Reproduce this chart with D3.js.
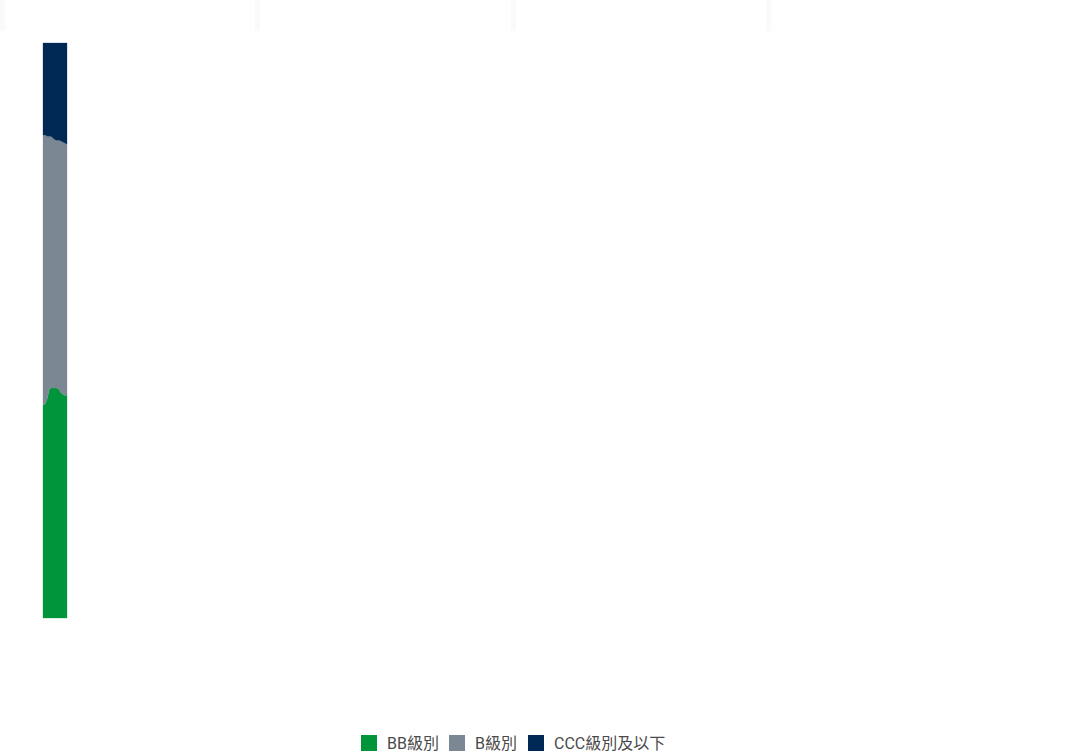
<!DOCTYPE html>
<html><head><meta charset="utf-8">
<script src="https://cdn.jsdelivr.net/npm/d3@7/dist/d3.min.js"></script>
<style>html,body{margin:0;padding:0;background:#fff;}svg{display:block;}</style>
</head><body>
<svg id="c" width="1076" height="752"></svg>
<script>
const dates = ["2023-01","2023-02","2023-03","2023-04","2023-05","2023-06","2023-07","2023-08","2023-09","2023-10","2023-11","2023-12"];
const seriesNames = ["BB級別","B級別","CCC級別及以下"];
const bbValues  = [37.0, 37.2, 38.2, 39.9, 40.0, 40.0, 40.0, 39.9, 39.3, 38.9, 38.7, 38.8];
const bValues   = [47.0, 46.8, 45.6, 43.9, 43.7, 43.3, 43.1, 43.2, 43.7, 43.9, 43.9, 43.6];
const cccValues = [16.0, 16.0, 16.2, 16.2, 16.3, 16.7, 16.9, 16.9, 17.0, 17.2, 17.4, 17.6];
const colors = ["#00953b", "#7b8894", "#002855"];

const svg = d3.select("#c");

// faint top band with separators
const tabEdges = [0, 255, 511, 766];
svg.selectAll("rect.tab").data(tabEdges).enter().append("rect")
  .attr("x", d => d).attr("y", 0).attr("width", 5).attr("height", 31)
  .attr("fill", "#fafafa");

const table = dates.map((d, i) => ({date: d, "BB級別": bbValues[i], "B級別": bValues[i], "CCC級別及以下": cccValues[i]}));
const stack = d3.stack().keys(seriesNames)(table);

const x = d3.scalePoint().domain(dates).range([43, 67]);
const y = d3.scaleLinear().domain([0, 100]).range([618, 43]);

const area = d3.area().x(d => x(d.data.date)).y0(d => y(d[0])).y1(d => y(d[1]));
svg.selectAll("path.layer").data(stack).enter().append("path")
  .attr("class", "layer").attr("d", area)
  .attr("fill", (d, i) => colors[i]).attr("stroke", (d, i) => colors[i]).attr("stroke-width", 0.3);

// legend
const legendX = [361, 449, 528];
const lg = svg.selectAll("g.lg").data(seriesNames).enter().append("g")
  .attr("transform", (d, i) => `translate(${legendX[i]},735)`);
lg.append("rect").attr("width", 16).attr("height", 16).attr("fill", (d, i) => colors[i]);
lg.append("text").attr("x", 26).attr("y", 14).text(d => d)
  .attr("font-family", "Roboto, 'Noto Sans CJK TC', sans-serif").attr("font-size", 16).attr("fill", "#4a4a4a");
</script>
</body></html>
